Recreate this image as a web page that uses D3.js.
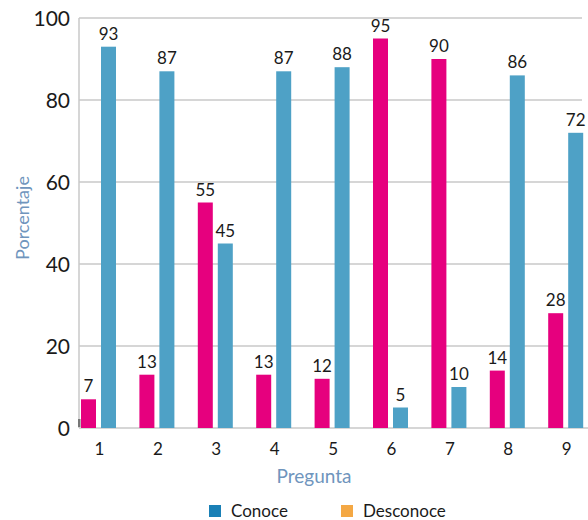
<!DOCTYPE html>
<html>
<head>
<meta charset="utf-8">
<script src="https://cdn.jsdelivr.net/npm/d3@7"></script>
<style>
  body { margin: 0; background: #fff; }
  text { font-family: "Lato", "DejaVu Sans", sans-serif; }
</style>
</head>
<body>
<script>
// datos
const preguntas = ['1', '2', '3', '4', '5', '6', '7', '8', '9'];
const desconoce = [7, 13, 55, 13, 12, 95, 90, 14, 28];
const conoce = [93, 87, 45, 87, 88, 5, 10, 86, 72];
const yTicks = [0, 20, 40, 60, 80, 100];
const leyenda = ['Conoce', 'Desconoce'];

const width = 588, height = 520;
const margin = { top: 18, right: 582, bottom: 428, left: 79 };

const svg = d3.select('body')
    .append('svg')
    .attr('width', width)
    .attr('height', height);

const y = d3.scaleLinear()
    .domain([0, 100])
    .range([margin.bottom, margin.top]);

// centros de cada pregunta
const x = d3.scalePoint()
    .domain(preguntas)
    .range([98.5, 565.7]);

const barW = 15;

// griglia
svg.append('g')
    .selectAll('line')
    .data(yTicks.filter(d => d > 0))
    .enter().append('line')
    .attr('x1', margin.left)
    .attr('x2', margin.right)
    .attr('y1', d => y(d))
    .attr('y2', d => y(d))
    .attr('stroke', '#c8c8c8')
    .attr('stroke-width', 1.5);

// assi
svg.append('line')
    .attr('x1', margin.left).attr('x2', margin.left)
    .attr('y1', margin.top).attr('y2', margin.bottom)
    .attr('stroke', '#c8c8c8').attr('stroke-width', 1.5);

svg.append('line')
    .attr('x1', margin.left).attr('x2', width)
    .attr('y1', margin.bottom).attr('y2', margin.bottom)
    .attr('stroke', '#c8c8c8').attr('stroke-width', 1.5);

// piccolo segno in basso a sinistra
svg.append('rect')
    .attr('x', 78).attr('y', 419)
    .attr('width', 2.5).attr('height', 8)
    .attr('fill', '#777');

// etichette asse y
svg.append('g')
    .selectAll('text')
    .data(yTicks)
    .enter().append('text')
    .attr('x', 70)
    .attr('y', d => y(d) + 8)
    .attr('text-anchor', 'end')
    .attr('font-size', 21)
    .attr('fill', '#1a1a1a')
    .text(d => d);

// etichette asse x
svg.append('g')
    .selectAll('text')
    .data(preguntas)
    .enter().append('text')
    .attr('x', d => x(d) + 1)
    .attr('y', 455)
    .attr('text-anchor', 'middle')
    .attr('font-size', 17)
    .attr('fill', '#1a1a1a')
    .text(d => d);

// barre
const series = [
  { vals: desconoce, color: '#e6007e', dx: -17.5 },
  { vals: conoce, color: '#4ea1c6', dx: 2.5 }
];

series.forEach(s => {
  const g = svg.append('g');
  g.selectAll('rect')
      .data(s.vals)
      .enter().append('rect')
      .attr('x', (d, i) => x(preguntas[i]) + s.dx)
      .attr('y', d => y(d))
      .attr('width', barW)
      .attr('height', d => margin.bottom - y(d))
      .attr('fill', s.color);

  g.selectAll('text')
      .data(s.vals)
      .enter().append('text')
      .attr('x', (d, i) => x(preguntas[i]) + s.dx + barW / 2)
      .attr('y', d => y(d) - 7)
      .attr('text-anchor', 'middle')
      .attr('font-size', 17)
      .attr('fill', '#1a1a1a')
      .text(d => d);
});

// titoli assi
svg.append('text')
    .attr('transform', 'translate(29,' + 218 + ') rotate(-90)')
    .attr('text-anchor', 'middle')
    .attr('font-size', 18)
    .attr('fill', '#6f95bd')
    .text('Porcentaje');

svg.append('text')
    .attr('x', 314)
    .attr('y', 483)
    .attr('text-anchor', 'middle')
    .attr('font-size', 19)
    .attr('fill', '#6f95bd')
    .text('Pregunta');

// legenda
const legColori = ['#1a80b6', '#f4a844'];
const legX = [209, 341];

const leg = svg.append('g')
    .selectAll('g')
    .data(leyenda)
    .enter().append('g')
    .attr('transform', (d, i) => 'translate(' + legX[i] + ',505)');

leg.append('rect')
    .attr('width', 12)
    .attr('height', 12)
    .attr('fill', (d, i) => legColori[i]);

leg.append('text')
    .attr('x', 22)
    .attr('y', 12)
    .attr('font-size', 17)
    .attr('fill', '#1a1a1a')
    .text(d => d);
</script>
</body>
</html>
